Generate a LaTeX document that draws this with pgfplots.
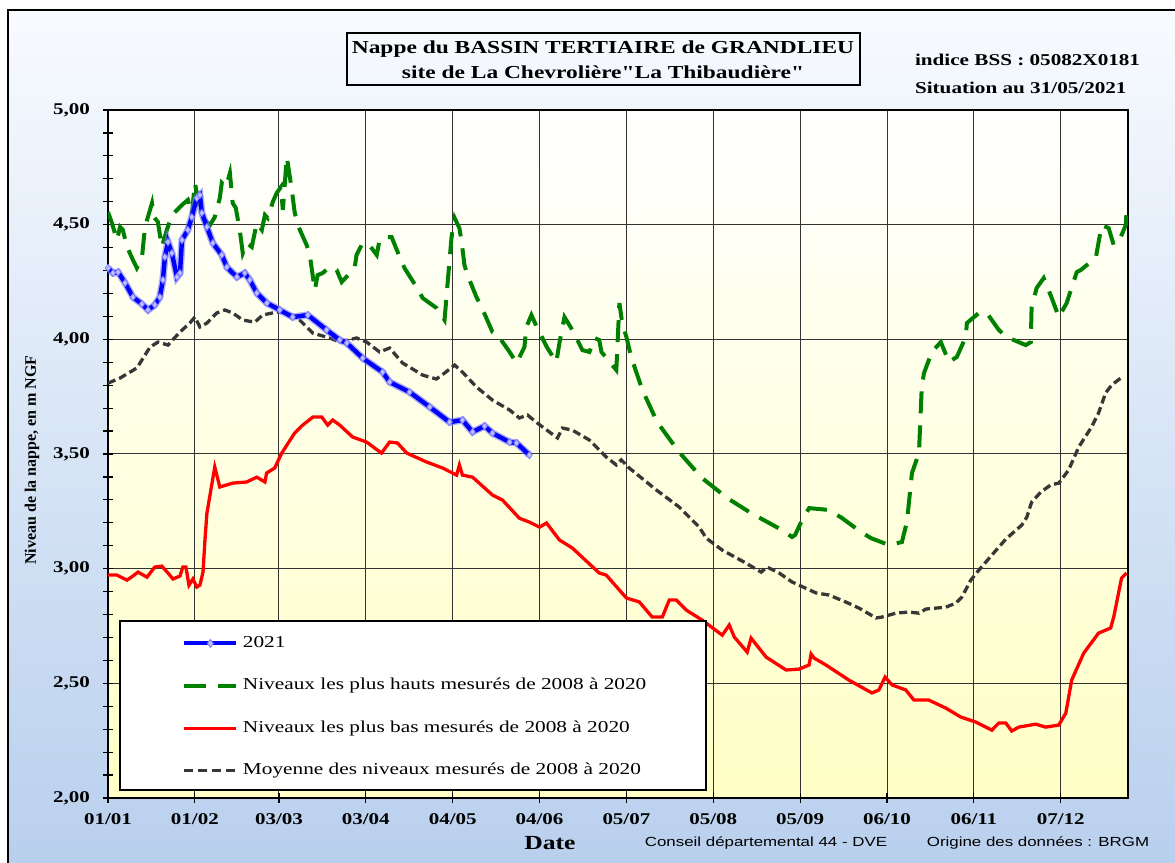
\documentclass[border=0pt]{standalone}
\usepackage{pgfplots}
\usepackage{pgfplotstable}
\pgfplotsset{compat=1.18}
\usepackage{fontspec}
\setmainfont{Liberation Serif}[FakeStretch=1.28]
\newfontfamily\serifplain{Liberation Serif}
\newfontfamily\titlefont{Liberation Serif}[FakeStretch=1.28, Ligatures=TeXOff]
\newfontfamily\sansx{Liberation Sans}[FakeStretch=1.28]
\definecolor{bgtop}{RGB}{248,251,255}
\definecolor{bgbot}{RGB}{184,207,237}
\definecolor{plotbot}{RGB}{255,255,198}
\definecolor{cgreen}{RGB}{0,128,0}
\definecolor{cred}{RGB}{255,0,0}
\definecolor{cblue}{RGB}{0,0,255}
\definecolor{cgray}{RGB}{55,55,55}
\definecolor{markfill}{RGB}{190,190,255}
\definecolor{markdraw}{RGB}{120,120,255}

\pgfplotstableread{
d v
0 4.311
1.8 4.289
3.6 4.293
6.1 4.246
8.9 4.184
12.1 4.154
14.3 4.128
16.7 4.150
18.5 4.184
19.6 4.259
20.3 4.359
21.4 4.424
22.8 4.376
24.6 4.272
25.7 4.289
26.4 4.433
28.5 4.477
29.9 4.533
31.7 4.616
32.8 4.629
33.5 4.551
35.3 4.490
37.4 4.420
40.6 4.368
42.4 4.315
46.0 4.272
48.8 4.289
50.6 4.259
53.1 4.202
56.7 4.158
61.3 4.128
65.9 4.097
71.3 4.106
78.0 4.041
82.7 3.997
85.2 3.984
90.9 3.918
98.0 3.857
100.5 3.814
107.6 3.770
114.8 3.705
121.9 3.639
126.5 3.648
130.1 3.596
134.4 3.622
137.2 3.591
143.3 3.552
145.8 3.548
150.4 3.495
}\tblue

\pgfplotstableread{
d v
0 4.555
1.4 4.507
3.2 4.433
4.3 4.490
5.3 4.477
6.8 4.403
8.9 4.346
10.3 4.311
12.1 4.354
13.2 4.490
15.7 4.594
16.4 4.533
17.8 4.512
19.2 4.403
21.0 4.477
22.8 4.542
26.4 4.586
28.5 4.608
29.9 4.542
31.0 4.682
31.7 4.638
32.8 4.573
33.5 4.533
36.4 4.498
38.1 4.533
39.9 4.616
40.6 4.682
42.1 4.664
43.5 4.725
44.5 4.594
45.6 4.573
47.0 4.477
48.1 4.376
49.5 4.420
51.3 4.403
53.1 4.507
54.9 4.477
56.0 4.542
57.0 4.529
58.8 4.599
60.2 4.638
61.7 4.664
62.4 4.564
63.8 4.795
64.9 4.708
65.6 4.651
66.6 4.555
67.7 4.498
70.9 4.411
72.0 4.368
73.8 4.215
74.8 4.280
76.6 4.289
79.1 4.315
81.6 4.302
83.4 4.250
88.0 4.311
88.7 4.368
90.5 4.411
92.7 4.420
95.9 4.368
96.9 4.433
99.4 4.446
101.2 4.446
104.1 4.359
105.8 4.311
110.1 4.228
112.3 4.180
117.2 4.137
120.1 4.084
121.2 4.246
122.6 4.446
123.7 4.529
125.4 4.485
126.2 4.424
127.2 4.324
128.3 4.280
131.5 4.184
133.3 4.141
137.2 4.032
138.6 4.027
143.3 3.945
145.8 3.897
148.6 3.966
149.3 4.054
151.1 4.106
153.2 4.049
156.8 3.962
160.0 3.901
161.1 3.984
162.9 4.097
165.7 4.041
169.3 3.953
171.8 3.945
173.6 4.006
175.3 3.997
176.1 3.945
181.4 3.866
182.5 4.158
183.5 4.071
185.0 4.010
186.7 3.923
190.7 3.779
196.0 3.639
203.8 3.508
212.0 3.395
221.0 3.308
229.5 3.242
240.6 3.168
244.1 3.138
245.2 3.147
247.7 3.212
250.2 3.264
257.3 3.256
261.9 3.221
268.7 3.160
272.3 3.133
278.7 3.103
283.3 3.116
285.1 3.203
286.9 3.417
289.4 3.504
290.4 3.792
291.2 3.853
294.0 3.945
297.2 3.988
300.1 3.901
302.9 3.923
306.1 4.010
306.5 4.071
310.8 4.115
313.6 4.115
317.9 4.041
320.7 4.010
327.5 3.975
329.3 3.988
329.6 4.141
331.4 4.224
333.9 4.267
336.8 4.180
339.3 4.097
342.1 4.158
345.7 4.293
347.1 4.302
352.5 4.355
354.6 4.498
357.1 4.485
358.9 4.411
361.4 4.446
363.2 4.498
363.5 4.564
}\tgreen

\pgfplotstableread{
d v
0 2.972
3.2 2.972
6.8 2.950
8.9 2.968
10.7 2.985
13.9 2.963
16.7 3.007
19.2 3.011
21.4 2.981
23.2 2.955
25.7 2.968
26.7 3.007
27.8 3.007
28.9 2.928
30.3 2.955
31.7 2.920
32.8 2.928
33.9 2.985
34.6 3.125
35.3 3.242
38.1 3.443
39.9 3.356
44.5 3.373
49.5 3.378
53.1 3.399
56.0 3.378
56.6 3.417
59.5 3.439
62.0 3.504
66.6 3.591
69.1 3.622
73.1 3.661
76.3 3.661
78.4 3.626
80.2 3.648
82.7 3.626
87.3 3.574
92.3 3.552
97.6 3.504
100.5 3.552
103.3 3.548
106.6 3.504
113.7 3.465
119.4 3.439
124.4 3.408
125.4 3.452
126.5 3.408
130.1 3.399
137.2 3.321
140.8 3.299
146.8 3.220
150.4 3.203
154.0 3.181
156.5 3.199
161.1 3.125
165.7 3.090
175.3 2.981
177.8 2.972
185.0 2.872
189.6 2.855
194.2 2.789
197.8 2.789
200.3 2.863
202.8 2.863
206.4 2.819
212.0 2.776
219.2 2.710
221.7 2.754
223.5 2.702
228.1 2.636
229.5 2.697
234.9 2.614
242.0 2.558
246.6 2.562
250.2 2.580
250.9 2.628
252.0 2.610
256.2 2.580
264.4 2.514
272.6 2.458
275.1 2.471
277.3 2.527
279.8 2.493
284.7 2.471
287.6 2.427
292.9 2.427
299.0 2.392
304.3 2.353
309.7 2.331
315.4 2.296
317.9 2.327
320.4 2.327
322.5 2.292
325.0 2.309
331.1 2.322
334.6 2.309
339.3 2.318
341.8 2.370
343.9 2.514
348.2 2.632
353.5 2.719
357.8 2.741
358.9 2.789
361.7 2.959
363.5 2.981
}\tred

\pgfplotstableread{
d v
0 3.809
4.3 3.831
10.3 3.875
15.0 3.966
17.8 3.988
21.4 3.975
25.7 4.032
29.2 4.071
31.0 4.097
32.8 4.054
35.3 4.071
38.8 4.115
41.7 4.128
44.5 4.115
48.1 4.084
52.4 4.075
55.2 4.106
60.2 4.119
63.8 4.115
68.4 4.084
73.1 4.027
79.1 4.006
82.7 3.988
88.7 4.006
92.3 3.988
96.9 3.945
100.5 3.962
105.1 3.897
112.3 3.844
117.2 3.827
120.1 3.853
123.7 3.888
126.5 3.857
131.5 3.792
137.2 3.735
143.3 3.692
146.8 3.657
149.7 3.670
153.2 3.635
157.5 3.596
160.4 3.570
162.2 3.613
165.7 3.604
171.8 3.561
177.8 3.487
181.4 3.452
183.2 3.474
186.0 3.439
195.7 3.343
203.8 3.269
211.0 3.181
213.5 3.133
219.2 3.081
227.7 3.024
233.1 2.985
235.2 3.007
239.5 2.981
244.1 2.942
252.7 2.894
257.3 2.885
263.4 2.854
268.0 2.828
274.1 2.785
276.2 2.789
281.2 2.806
285.8 2.811
289.4 2.806
291.9 2.824
299.0 2.832
302.6 2.850
304.7 2.876
307.9 2.950
310.8 2.994
315.4 3.059
320.4 3.129
326.1 3.190
327.9 3.225
329.6 3.290
332.9 3.334
336.4 3.365
339.3 3.373
342.8 3.430
346.4 3.530
351.0 3.618
353.5 3.679
356.0 3.766
358.2 3.801
361.4 3.831
362.4 3.831
}\tgray

\begin{document}
\begin{tikzpicture}
\path[use as bounding box] (0,0) rectangle (587.5pt,431.5pt);
\begin{scope}
\clip (0,0) rectangle (587.5pt,431.5pt);
\shade[top color=bgtop,bottom color=bgbot] (4pt,-5pt) rectangle (600pt,426.5pt);
\draw[line width=1pt] (4pt,-5pt) -- (4pt,426.5pt) -- (600pt,426.5pt);
\end{scope}
\begin{axis}[
  at={(54pt,32.5pt)}, anchor=south west,
  scale only axis, width=510pt, height=344pt,
  xmin=0, xmax=364, ymin=2, ymax=5,
  xtick={0,31,61,92,123,154,185,216,247,278,309,340},
  xticklabels={01/01,01/02,03/03,03/04,04/05,04/06,05/07,05/08,05/09,06/10,06/11,07/12},
  ytick={2,2.5,3,3.5,4,4.5,5},
  yticklabels={{2,00},{2,50},{3,00},{3,50},{4,00},{4,50},{5,00}},
  minor y tick num=4,
  grid=major,
  major grid style={line width=0.5pt, black!80},
  tick align=center, major tick length=5pt, minor tick length=5pt,
  every tick/.style={black, line width=0.6pt},
  xtick pos=left, ytick pos=left,
  axis line style={line width=0.9pt},
  ticklabel style={font=\bfseries\fontsize{8.2}{9.5}\selectfont},
  xticklabel style={yshift=-2pt},
  yticklabel style={xshift=-3pt},
  axis background/.style={shade, top color=white, bottom color=plotbot},
  legend image code/.code={\draw[mark repeat=2,mark phase=2,#1] plot coordinates {(0pt,0pt) (13pt,0pt) (26pt,0pt)};},
  legend style={at={(0.0725,0.2369)}, anchor=north west, draw=none, fill=none,
    inner sep=0pt, row sep=13.2pt, column sep=2.3pt,
    font=\fontsize{8.32}{10}\selectfont,
    nodes={inner sep=0pt, text height=6pt, text depth=2pt}},
  legend cell align=left,
]
\addlegendimage{cblue, line width=2pt, mark=diamond*, mark size=2pt, mark options={fill=markfill, draw=markdraw, line width=0.4pt, solid}}
\addlegendentry{2021}
\addlegendimage{cgreen, line width=2pt, dash pattern=on 11pt off 6pt}
\addlegendentry{Niveaux les plus hauts mesurés de 2008 à 2020}
\addlegendimage{cred, line width=1.65pt}
\addlegendentry{Niveaux les plus bas mesurés de 2008 à 2020}
\addlegendimage{cgray, line width=1.65pt, dash pattern=on 4.5pt off 2.5pt}
\addlegendentry{Moyenne des niveaux mesurés de 2008 à 2020}

\addplot[forget plot, cgreen, line width=2pt, dash pattern=on 11pt off 6pt] table[x=d,y=v] {\tgreen};
\addplot[forget plot, cred, line width=1.65pt] table[x=d,y=v] {\tred};
\addplot[forget plot, cgray, line width=1.65pt, dash pattern=on 4pt off 2pt] table[x=d,y=v] {\tgray};
\addplot[forget plot, draw=markdraw, line width=3.6pt, opacity=0.6] table[x=d,y=v] {\tblue};
\addplot[forget plot, cblue, line width=2.2pt, mark=diamond*, mark size=1.8pt, mark options={fill=markfill, draw=markdraw, line width=0.4pt, solid}] table[x=d,y=v] {\tblue};
\draw[fill=white, line width=0.6pt] (rel axis cs:0.01176,0.01163) rectangle (rel axis cs:0.5863,0.2573);
\end{axis}
\draw[line width=0.75pt] (173.5pt,389pt) rectangle (430pt,415pt);
\node[align=center, font=\titlefont\bfseries\fontsize{9.15}{12.5}\selectfont] at (301.5pt,401.75pt) {Nappe du BASSIN TERTIAIRE de GRANDLIEU\\site de La Chevrolière"La Thibaudière"};
\node[anchor=west, font=\bfseries\fontsize{8.26}{10}\selectfont] at (454pt,401.5pt) {indice BSS : 05082X0181};
\node[anchor=west, font=\bfseries\fontsize{8.26}{10}\selectfont] at (454pt,387.5pt) {Situation au 31/05/2021};
\node[rotate=90, font=\serifplain\bfseries\fontsize{8}{10}\selectfont] at (16pt,201.5pt) {Niveau de la nappe, en m NGF};
\node[font=\bfseries\fontsize{10}{12}\selectfont] at (275pt,10pt) {Date};
\node[font=\sansx\fontsize{6.6}{8}\selectfont] at (383pt,10pt) {Conseil départemental 44 - DVE};
\node[font=\sansx\fontsize{6.6}{8}\selectfont] at (519pt,10pt) {Origine des données : BRGM};
\end{tikzpicture}
\end{document}
